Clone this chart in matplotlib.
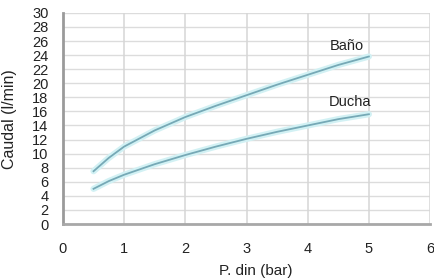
import matplotlib
matplotlib.use("Agg")
import matplotlib.pyplot as plt

pressure = [0.5, 0.75, 1.0, 1.5, 2.0, 2.5, 3.0, 3.5, 4.0, 4.5, 5.0]
bano = [7.5, 9.4, 11.0, 13.3, 15.2, 16.8, 18.3, 19.8, 21.2, 22.6, 23.8]
ducha = [5.0, 6.1, 7.0, 8.5, 9.8, 11.0, 12.1, 13.1, 14.0, 14.9, 15.6]
xticks = [0, 1, 2, 3, 4, 5, 6]
yticks = list(range(0, 31, 2))

plt.rcParams['font.family'] = ['Liberation Sans', 'DejaVu Sans']
fig = plt.figure(figsize=(4.34, 2.8), dpi=100)
ax = fig.add_axes([0.145, 0.2, 0.846, 0.754])

ax.set_xlim(0, 6)
ax.set_ylim(0, 30)
ax.set_xticks(xticks)
ax.set_yticks(yticks)
ax.tick_params(length=0, labelsize=10.5, colors='#222222')
ax.tick_params(axis='y', pad=10.5)
ax.tick_params(axis='x', pad=13)

for y in yticks:
    ax.axhline(y, color='#dcdcdc', lw=1.0, zorder=0)
for x in xticks[1:]:
    ax.axvline(x, color='#d6d6d6', lw=1.1, zorder=0)

for s in ['top', 'right']:
    ax.spines[s].set_visible(False)
ax.spines['left'].set_color('#9a9a9a')
ax.spines['left'].set_linewidth(2.0)
ax.spines['bottom'].set_color('#a8a8a8')
ax.spines['bottom'].set_linewidth(2.0)

for series in (bano, ducha):
    ax.plot(pressure, series, color='#d2f1f4', lw=4.5, solid_capstyle='round', zorder=2)
    ax.plot(pressure, series, color='#76a9b6', lw=1.3, zorder=3)

ax.text(4.36, 25.3, 'Baño', fontsize=10.5, va='center', ha='left', color='#222222')
ax.text(4.35, 17.4, 'Ducha', fontsize=10.5, va='center', ha='left', color='#222222')

fig.text(256 / 434, 1 - 271 / 280, 'P. din (bar)', fontsize=11, color='#222222',
         ha='center', va='center')
fig.text(10 / 434, 1 - 119 / 280, 'Caudal (l/min)', fontsize=11.5, color='#222222',
         ha='center', va='center', rotation=90)

fig.savefig('out.png', dpi=100)
